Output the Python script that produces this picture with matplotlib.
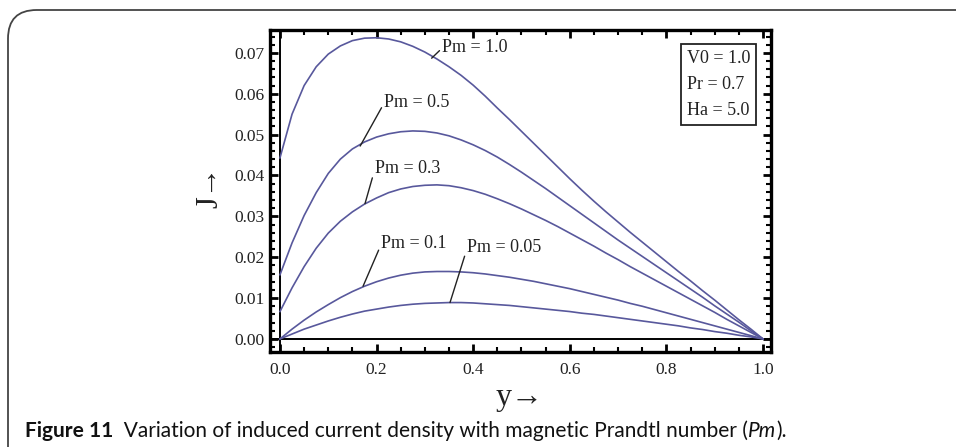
import matplotlib
matplotlib.use("Agg")
import matplotlib.pyplot as plt
from matplotlib.patches import FancyBboxPatch, Rectangle
from matplotlib.ticker import MultipleLocator, FormatStrFormatter
import numpy as np

# values (y position in steps of 0.025)
y_pos = [0, 0.025, 0.05, 0.075, 0.1, 0.125, 0.15, 0.175, 0.2, 0.225, 0.25,
         0.275, 0.3, 0.325, 0.35, 0.375, 0.4, 0.425, 0.45, 0.475, 0.5,
         0.525, 0.55, 0.575, 0.6, 0.625, 0.65, 0.675, 0.7, 0.725, 0.75,
         0.775, 0.8, 0.825, 0.85, 0.875, 0.9, 0.925, 0.95, 0.975, 1.0]

J_pm_1_0 = [0.0443, 0.0550, 0.0620, 0.0666, 0.0697, 0.0717, 0.0730, 0.0736,
            0.0737, 0.0734, 0.0727, 0.0716, 0.0702, 0.0685, 0.0666, 0.0645,
            0.0621, 0.0594, 0.0565, 0.0537, 0.0508, 0.0479, 0.0450, 0.0421,
            0.0392, 0.0364, 0.0337, 0.0311, 0.0286, 0.0261, 0.0237, 0.0213,
            0.0189, 0.0165, 0.0142, 0.0118, 0.0095, 0.0071, 0.0047, 0.0024, 0.0]
J_pm_0_5 = [0.0157, 0.0235, 0.0302, 0.0358, 0.0405, 0.0440, 0.0465, 0.0482,
            0.0494, 0.0502, 0.0507, 0.0509, 0.0508, 0.0504, 0.0497, 0.0487,
            0.0475, 0.0461, 0.0445, 0.0427, 0.0408, 0.0388, 0.0368, 0.0347,
            0.0326, 0.0305, 0.0284, 0.0263, 0.0242, 0.0222, 0.0202, 0.0182,
            0.0162, 0.0142, 0.0122, 0.0102, 0.0081, 0.0061, 0.0041, 0.0020, 0.0]
J_pm_0_3 = [0.0067, 0.0125, 0.0177, 0.0222, 0.0259, 0.0288, 0.0311, 0.0330,
            0.0345, 0.0358, 0.0367, 0.0373, 0.0376, 0.0377, 0.0375, 0.0370,
            0.0363, 0.0354, 0.0343, 0.0331, 0.0318, 0.0304, 0.0290, 0.0275,
            0.0259, 0.0243, 0.0227, 0.0210, 0.0194, 0.0177, 0.0161, 0.0145,
            0.0129, 0.0113, 0.0097, 0.0081, 0.0065, 0.0048, 0.0032, 0.0016, 0.0]
J_pm_0_1 = [0.0, 0.0024, 0.0046, 0.0066, 0.0084, 0.0101, 0.0116, 0.0129,
            0.0140, 0.0149, 0.0156, 0.0161, 0.0164, 0.0165, 0.0165, 0.0164,
            0.0162, 0.0159, 0.0155, 0.0151, 0.0146, 0.0141, 0.0135, 0.0129,
            0.0123, 0.0116, 0.0109, 0.0102, 0.0095, 0.0087, 0.0080, 0.0072,
            0.0064, 0.0056, 0.0048, 0.0040, 0.0032, 0.0024, 0.0016, 0.0008, 0.0]
J_pm_0_05 = [0.0, 0.0012, 0.0024, 0.0034, 0.0044, 0.0053, 0.0061, 0.0068,
             0.0073, 0.0078, 0.0082, 0.0085, 0.0087, 0.0088, 0.0089, 0.0089,
             0.0088, 0.0086, 0.0084, 0.0082, 0.0079, 0.0076, 0.0073, 0.0070,
             0.0067, 0.0063, 0.0060, 0.0056, 0.0052, 0.0048, 0.0044, 0.0040,
             0.0036, 0.0032, 0.0027, 0.0023, 0.0018, 0.0014, 0.0009, 0.0005, 0.0]

curves = [J_pm_1_0, J_pm_0_5, J_pm_0_3, J_pm_0_1, J_pm_0_05]
labels = ["Pm = 1.0", "Pm = 0.5", "Pm = 0.3", "Pm = 0.1", "Pm = 0.05"]
# pointer start (on curve) and label anchor
label_pts = [(0.314, 0.0687), (0.166, 0.0472), (0.176, 0.0331), (0.172, 0.0129), (0.352, 0.0089)]
label_txt = [(0.336, 0.0712), (0.216, 0.0578), (0.197, 0.0418), (0.210, 0.0233), (0.388, 0.0224)]

params = ["V0 = 1.0", "Pr = 0.7", "Ha = 5.0"]

serif = ["Liberation Serif", "DejaVu Serif"]
line_col = "#58589c"
ink = "#222222"

fig = plt.figure(figsize=(9.56, 4.47), dpi=100)
ax = fig.add_axes([0.2824, 0.2125, 0.5241, 0.7204])

for J in curves:
    ax.plot(y_pos, J, color=line_col, lw=1.2)

ax.axhline(0, color="black", lw=1.4, zorder=1)
ax.axvline(0, color="black", lw=1.4, zorder=1)

for lab, p, t in zip(labels, label_pts, label_txt):
    ax.annotate(lab, xy=p, xytext=t, fontsize=13, family=serif,
                ha="left", va="center", color=ink,
                arrowprops=dict(arrowstyle="-", color=ink, lw=1.0,
                                shrinkA=0, shrinkB=0, relpos=(0, 0.5)))

ax.add_patch(Rectangle((0.831, 0.0523), 0.155, 0.0198, fill=False,
                       edgecolor=ink, lw=1.3, zorder=3))
for i, s in enumerate(params):
    ax.text(0.842, 0.0686 - i * 0.0063, s, fontsize=13, family=serif,
            va="center", ha="left", color=ink)

ax.set_xlim(-0.0207, 1.0166)
ax.set_ylim(-0.0032, 0.0756)
ax.xaxis.set_major_locator(MultipleLocator(0.2))
ax.xaxis.set_minor_locator(MultipleLocator(0.05))
ax.yaxis.set_major_locator(MultipleLocator(0.01))
ax.yaxis.set_minor_locator(MultipleLocator(0.002))
ax.xaxis.set_major_formatter(FormatStrFormatter("%.1f"))
ax.yaxis.set_major_formatter(FormatStrFormatter("%.2f"))
ax.tick_params(which="both", direction="in", top=True, right=True, color="black")
ax.tick_params(which="major", length=6, width=2)
ax.tick_params(which="minor", length=3.5, width=1.5)
ax.tick_params(axis="x", pad=7)
ax.tick_params(axis="y", pad=4)
for lab in ax.get_xticklabels() + ax.get_yticklabels():
    lab.set_family(serif)
    lab.set_fontsize(12.5)
    lab.set_color(ink)
for sp in ax.spines.values():
    sp.set_linewidth(2.4)

fig.text(210 / 956, 1 - 187 / 447, "J\u2192", rotation=90, fontsize=22,
         family=serif, ha="center", va="center", color=ink)
fig.text(520 / 956, 1 - 398 / 447, "y\u2192", fontsize=23,
         family=serif, ha="center", va="center", color=ink)

# outer frame (only top and left edges fall inside the picture)
frame = FancyBboxPatch((8 / 956, -0.2), 1.2, 1.2 - 10 / 447,
                       boxstyle="round,pad=0,rounding_size=0.03",
                       transform=fig.transFigure, fill=False,
                       edgecolor="#444444", lw=1.3, mutation_aspect=956 / 447)
fig.patches.append(frame)

cap = dict(fontsize=15, family="Lato", color="#111111")
t1 = fig.text(25 / 956, 1 - 437 / 447, "Figure 11", weight="bold",
              va="baseline", **cap)
a2 = ax.annotate("  Variation of induced current density with magnetic Prandtl number (",
                 xy=(1, 0), xycoords=t1, va="bottom", ha="left",
                 annotation_clip=False, **cap)
a3 = ax.annotate("Pm", xy=(1, 0), xycoords=a2, style="italic", va="bottom",
                 ha="left", annotation_clip=False, **cap)
a4 = ax.annotate(").", xy=(1, 0), xycoords=a3, va="bottom", ha="left",
                 annotation_clip=False, **cap)

fig.savefig("out.png", dpi=100)
